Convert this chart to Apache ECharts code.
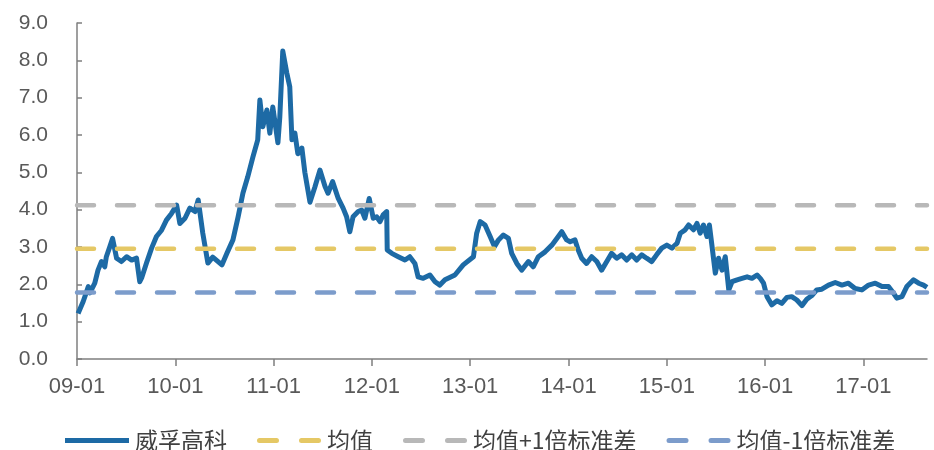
<!DOCTYPE html>
<html>
<head>
<meta charset="utf-8">
<script src="https://cdn.jsdelivr.net/npm/echarts@6/dist/echarts.min.js"></script>
<style>html,body{margin:0;padding:0;background:#fff;}#c{width:934px;height:450px;}</style>
</head>
<body>
<div id="c"></div>
<script>
// ---- data ----
const dates = [
"2009-01-05","2009-01-24","2009-02-12","2009-02-18","2009-03-08","2009-03-20","2009-04-02","2009-04-14","2009-04-20","2009-05-03",
"2009-05-13","2009-05-28","2009-06-15","2009-07-04","2009-07-23","2009-08-10","2009-08-22","2009-08-29","2009-09-16","2009-10-05",
"2009-10-23","2009-11-11","2009-11-29","2009-12-18","2010-01-06","2010-01-18","2010-02-06","2010-02-24","2010-03-15","2010-03-27",
"2010-04-13","2010-05-02","2010-05-20","2010-06-23","2010-07-12","2010-08-03","2010-08-22","2010-09-09","2010-09-27","2010-10-16",
"2010-11-03","2010-11-11","2010-11-22","2010-12-07","2010-12-18","2010-12-29","2011-01-17","2011-01-24","2011-02-04","2011-02-19",
"2011-03-02","2011-03-10","2011-03-21","2011-04-01","2011-04-16","2011-04-27","2011-05-16","2011-06-03","2011-06-22","2011-07-11",
"2011-07-22","2011-08-08","2011-08-29","2011-09-16","2011-09-29","2011-10-11","2011-10-23","2011-11-11","2011-11-24","2011-12-06",
"2011-12-22","2012-01-06","2012-01-19","2012-01-31","2012-02-12","2012-02-25","2012-02-27","2012-03-15","2012-04-08","2012-05-03",
"2012-05-21","2012-06-09","2012-06-21","2012-07-10","2012-08-04","2012-08-23","2012-09-10","2012-09-29","2012-11-05","2012-12-06",
"2013-01-13","2013-01-25","2013-02-07","2013-02-25","2013-03-16","2013-04-01","2013-04-16","2013-05-04","2013-05-23","2013-06-04",
"2013-06-23","2013-07-11","2013-08-05","2013-08-23","2013-09-11","2013-10-06","2013-10-31","2013-11-24","2013-12-07","2013-12-25",
"2014-01-07","2014-01-25","2014-02-06","2014-02-19","2014-03-09","2014-03-28","2014-04-16","2014-05-04","2014-05-23","2014-06-10",
"2014-06-29","2014-07-17","2014-08-05","2014-08-24","2014-09-11","2014-09-30","2014-10-18","2014-11-06","2014-11-24","2014-12-13",
"2015-01-01","2015-01-20","2015-02-08","2015-02-20","2015-03-10","2015-03-23","2015-04-10","2015-04-23","2015-05-05","2015-05-17",
"2015-05-30","2015-06-08","2015-06-18","2015-06-30","2015-07-12","2015-07-25","2015-08-06","2015-08-19","2015-08-31","2015-09-19",
"2015-10-07","2015-10-26","2015-11-13","2015-12-02","2015-12-14","2015-12-26","2016-01-08","2016-01-26","2016-02-14","2016-03-03",
"2016-03-22","2016-04-09","2016-04-28","2016-05-17","2016-06-04","2016-06-23","2016-07-11","2016-07-30","2016-08-24","2016-09-18",
"2016-10-13","2016-11-06","2016-12-01","2016-12-26","2017-01-20","2017-02-14","2017-03-11","2017-04-04","2017-04-23","2017-05-05",
"2017-05-24","2017-06-11","2017-07-06","2017-07-25","2017-08-12","2017-08-25"
];
const peValues = [
1.22,1.54,1.94,1.77,2.03,2.38,2.61,2.47,2.74,3.01,
3.23,2.70,2.61,2.74,2.65,2.70,2.07,2.17,2.57,2.97,
3.28,3.45,3.72,3.90,4.12,3.63,3.77,4.04,3.95,4.26,
3.37,2.57,2.73,2.52,2.84,3.19,3.80,4.44,4.88,5.41,
5.87,6.94,6.22,6.67,6.05,6.75,5.79,6.48,8.25,7.66,
7.29,5.87,6.05,5.50,5.65,5.00,4.20,4.60,5.06,4.62,
4.44,4.75,4.30,4.04,3.81,3.41,3.81,3.95,3.99,3.77,
4.30,3.77,3.81,3.68,3.86,3.95,2.92,2.83,2.74,2.65,
2.74,2.56,2.20,2.16,2.25,2.07,1.98,2.12,2.25,2.52,
2.74,3.37,3.68,3.59,3.28,3.01,3.19,3.32,3.23,2.83,
2.56,2.38,2.61,2.47,2.74,2.87,3.05,3.28,3.41,3.19,
3.14,3.19,2.92,2.70,2.56,2.74,2.61,2.38,2.61,2.83,
2.70,2.79,2.65,2.79,2.65,2.79,2.70,2.61,2.79,2.97,
3.05,2.97,3.10,3.37,3.46,3.59,3.46,3.63,3.37,3.59,
3.28,3.59,3.01,2.30,2.70,2.38,2.74,1.85,2.07,2.12,
2.16,2.20,2.16,2.25,2.16,2.03,1.67,1.45,1.56,1.49,
1.65,1.67,1.58,1.43,1.60,1.70,1.85,1.87,1.98,2.05,
1.98,2.03,1.89,1.85,1.98,2.03,1.94,1.94,1.76,1.63,
1.67,1.94,2.12,2.03,1.98,1.92
];
const meanValue = 2.95;
const upperValue = 4.12;   // 均值+1倍标准差
const lowerValue = 1.78;   // 均值-1倍标准差
const seriesNames = ["威孚高科","均值","均值+1倍标准差","均值-1倍标准差"];
const yearTicks = [2009,2010,2011,2012,2013,2014,2015,2016,2017];
const yTickLabels = ["0.0","1.0","2.0","3.0","4.0","5.0","6.0","7.0","8.0","9.0"];

// ---- helpers ----
function toYear(s){
  const p = s.split('-').map(Number);
  const st = Date.UTC(p[0],0,1), en = Date.UTC(p[0]+1,0,1);
  return p[0] + (Date.UTC(p[0],p[1]-1,p[2]) - st) / (en - st);
}
const xs = dates.map(toYear);
const xMin = yearTicks[0];
const xMax = xs[xs.length-1];
const mainData = xs.map((x,i)=>[x, peValues[i]]);
const flat = v => [[xMin, v],[xMax, v]];

const solidIcon = 'path://M0,0 H64 V5 H0 Z';
const dashIcon = 'path://M2.5,0 H19.5 A2.5,2.5 0 0 1 19.5,5 H2.5 A2.5,2.5 0 0 1 2.5,0 Z M44.5,0 H61.5 A2.5,2.5 0 0 1 61.5,5 H44.5 A2.5,2.5 0 0 1 44.5,0 Z';

const chart = echarts.init(document.getElementById('c'), null, {renderer:'canvas'});
const dashStyle = (color) => ({color: color, width: 4.5, type: [17, 23], cap: 'round'});
chart.setOption({
  animation: false,
  backgroundColor: '#ffffff',
  grid: {left: 77, right: 7, top: 23, bottom: 91},
  legend: {
    top: 424,
    left: 60,
    selectedMode: false,
    itemWidth: 66,
    itemHeight: 5,
    itemGap: 30,
    textStyle: {fontFamily: 'Noto Sans CJK SC', fontSize: 23, color: '#404040'},
    data: [
      {name: seriesNames[0], icon: solidIcon},
      {name: seriesNames[1], icon: dashIcon},
      {name: seriesNames[2], icon: dashIcon},
      {name: seriesNames[3], icon: dashIcon}
    ]
  },
  xAxis: {
    type: 'value',
    min: xMin,
    max: xMax,
    interval: 1,
    splitLine: {show: false},
    axisLine: {lineStyle: {color: '#7f7f7f', width: 1.5}},
    axisTick: {show: true, inside: false, length: 7, customValues: yearTicks, lineStyle: {color: '#7f7f7f', width: 1.5}},
    axisLabel: {
      customValues: yearTicks,
      margin: 17,
      fontFamily: 'Liberation Sans, Arial, sans-serif',
      fontSize: 22,
      color: '#595959',
      formatter: v => String(Math.round(v) % 100).padStart(2,'0') + '-01'
    }
  },
  yAxis: {
    type: 'value',
    min: 0,
    max: 9,
    interval: 1,
    splitLine: {show: false},
    axisLine: {show: true, lineStyle: {color: '#7f7f7f', width: 1.5}},
    axisTick: {show: true, inside: true, length: 5, lineStyle: {color: '#7f7f7f', width: 1.5}},
    axisLabel: {
      margin: 29,
      fontFamily: 'Liberation Sans, Arial, sans-serif',
      fontSize: 21,
      color: '#595959',
      formatter: v => yTickLabels[Math.round(v)]
    }
  },
  series: [
    {name: seriesNames[0], type: 'line', data: mainData, symbol: 'none', z: 2,
     lineStyle: {color: '#1d6aa5', width: 5, join: 'round'}, itemStyle: {color: '#1d6aa5'}},
    {name: seriesNames[1], type: 'line', data: flat(meanValue), symbol: 'none', z: 3,
     lineStyle: dashStyle('#e5c865'), itemStyle: {color: '#e5c865'}},
    {name: seriesNames[2], type: 'line', data: flat(upperValue), symbol: 'none', z: 3,
     lineStyle: dashStyle('#b8b8b8'), itemStyle: {color: '#b8b8b8'}},
    {name: seriesNames[3], type: 'line', data: flat(lowerValue), symbol: 'none', z: 3,
     lineStyle: dashStyle('#7c9ccb'), itemStyle: {color: '#7c9ccb'}}
  ]
});
</script>
</body>
</html>
